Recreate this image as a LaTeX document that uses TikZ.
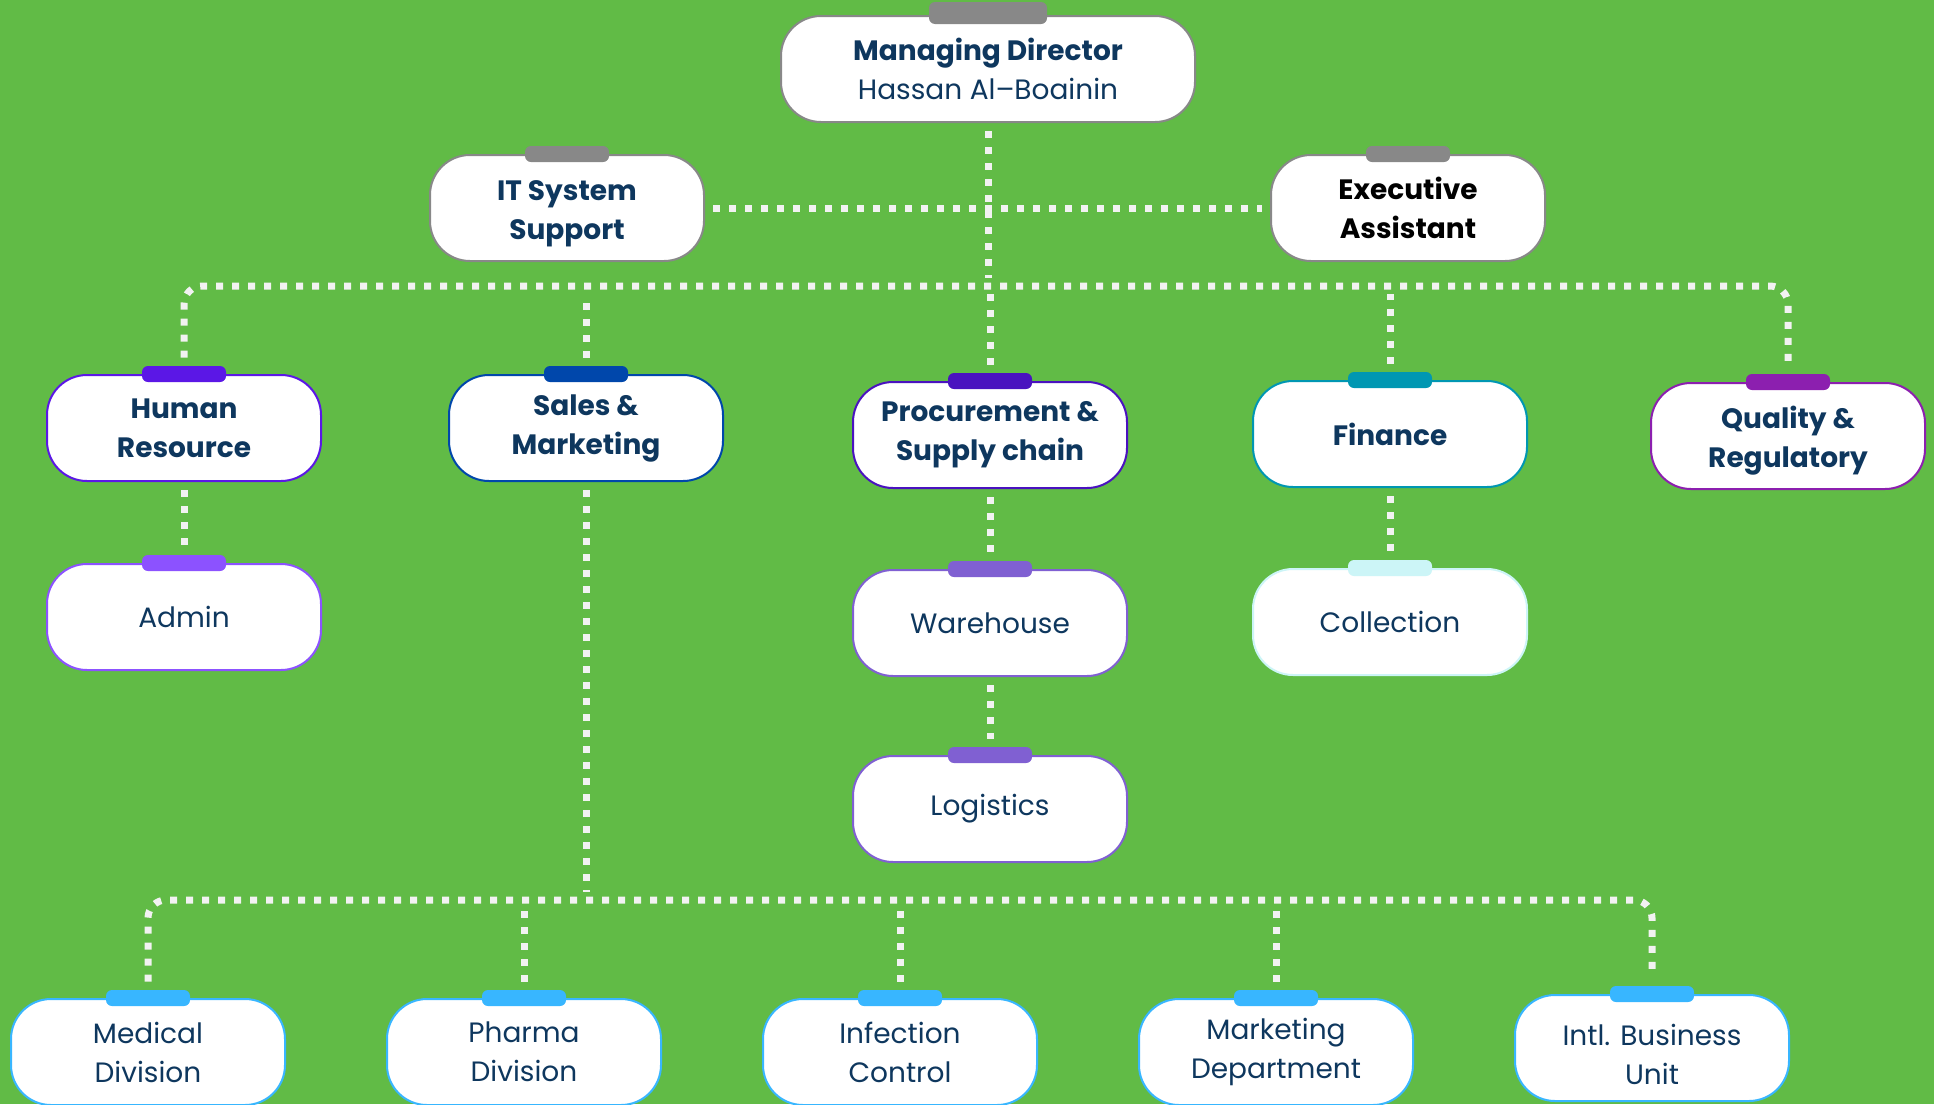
\documentclass[tikz,border=0pt]{standalone}
\usepackage{fontspec}
\setmainfont{Poppins}
\usetikzlibrary{calc}
\usetikzlibrary{positioning}

\definecolor{bggreen}{RGB}{97,187,70}
\definecolor{navy}{RGB}{14,55,94}
\definecolor{dotwhite}{RGB}{242,242,242}
\definecolor{mdgray}{RGB}{136,136,136}
\definecolor{hrpurple}{RGB}{91,23,230}
\definecolor{smblue}{RGB}{0,71,171}
\definecolor{prpurple}{RGB}{74,18,191}
\definecolor{fiteal}{RGB}{0,151,178}
\definecolor{qrmagenta}{RGB}{140,31,175}
\definecolor{adviolet}{RGB}{140,82,255}
\definecolor{whviolet}{RGB}{128,96,210}
\definecolor{cocyan}{RGB}{204,245,247}
\definecolor{skyblue}{RGB}{56,182,255}

\tikzset{
    box/.style={draw=#1, line width=1pt, fill=white, rounded corners=20pt,
        minimum width=137pt, minimum height=53pt, align=center, text=navy,
        font=\fontsize{14}{19.5}\selectfont},
    tab/.style={fill=#1, rounded corners=3pt, minimum width=42pt,
        minimum height=8pt, inner sep=0pt},
    link/.style={draw=dotwhite, line width=3.5pt, dash pattern=on 3.5pt off 4.5pt,
        shorten <=4pt, shorten >=4pt}
}

\begin{document}
\begin{tikzpicture}[x=0.5pt, y=-0.5pt]
    \useasboundingbox (0,0) rectangle (1934,1104);
    \fill[bggreen] (0,0) rectangle (1934,1104);

    % top
    \node[box=mdgray, minimum width=207pt] (md) at (988,69) {\textbf{Managing Director}\\Hassan Al–Boainin};
    \node[tab=mdgray, minimum width=59pt, minimum height=11pt] (md-tab) at ($(md.north)+(0,-2)$) {};
    \node[box=mdgray] (it) at (567,208) {\rule{0pt}{16pt}\textbf{IT System}\\\textbf{Support}};
    \node[box=mdgray, text=black] (ea) at (1408,208) {\textbf{Executive}\\\textbf{Assistant}};
    \foreach \n in {it,ea}
        \node[tab=mdgray] (\n-tab) at (\n.north) {};

    % departments
    \node[box=hrpurple] (hr) at (184,428) {\textbf{Human}\\\textbf{Resource}};
    \node[box=smblue] (sm) at (586,428) {\textbf{Sales \&}\\\textbf{Marketing}};
    \node[box=prpurple] (pr) at (990,435) {\textbf{Procurement \&}\\\textbf{Supply chain}};
    \node[box=fiteal] (fi) at (1390,434) {\textbf{Finance}};
    \node[box=qrmagenta] (qr) at (1788,436) {\rule{0pt}{16pt}\textbf{Quality \&}\\\textbf{Regulatory}};
    \node[tab=hrpurple] (hr-tab) at (hr.north) {};
    \node[tab=smblue] (sm-tab) at (sm.north) {};
    \node[tab=prpurple] (pr-tab) at (pr.north) {};
    \node[tab=fiteal] (fi-tab) at (fi.north) {};
    \node[tab=qrmagenta] (qr-tab) at (qr.north) {};

    % sections
    \node[box=adviolet] (ad) at (184,617) {Admin};
    \node[box=whviolet] (wh) at (990,623) {Warehouse};
    \node[box=whviolet] (lg) at (990,809) {Logistics};
    \node[box=cocyan] (co) at (1390,622) {Collection};
    \node[tab=adviolet] (ad-tab) at (ad.north) {};
    \node[tab=whviolet] (wh-tab) at (wh.north) {};
    \node[tab=whviolet] (lg-tab) at (lg.north) {};
    \node[tab=cocyan] (co-tab) at (co.north) {};

    % sales units
    \node[box=skyblue] (mdv) at (148,1052) {Medical\\Division};
    \node[box=skyblue] (ph) at (524,1052) {Pharma\\Division};
    \node[box=skyblue] (ic) at (900,1052) {Infection\\Control};
    \node[box=skyblue] (mk) at (1276,1052) {Marketing\\Department};
    \node[box=skyblue] (ib) at (1652,1048) {\rule{0pt}{17pt}Intl. Business\\Unit};
    \foreach \n in {mdv,ph,ic,mk,ib}
        \node[tab=skyblue] (\n-tab) at (\n.north) {};

    % connectors
    \coordinate (bus) at (0,286);
    \coordinate (bus2) at (0,900);
    \draw[link] (md.south) -- (md.south |- bus);
    \draw[link] (it.east) -- (ea.west);
    \draw[link, rounded corners=9pt] (hr-tab.north) |- (md.south |- bus) -| (qr-tab.north);
    \foreach \t in {sm-tab,pr-tab,fi-tab}
        \draw[link] (\t.north) -- (\t.north |- bus);
    \draw[link] (hr.south) -- (ad-tab.north);
    \draw[link] (pr.south) -- (wh-tab.north);
    \draw[link] (wh.south) -- (lg-tab.north);
    \draw[link] (fi.south) -- (co-tab.north);
    \draw[link] (sm.south) -- (sm.south |- bus2);
    \draw[link, rounded corners=9pt] (mdv-tab.north) |- (sm.south |- bus2) -| (ib-tab.north);
    \foreach \t in {ph-tab,ic-tab,mk-tab}
        \draw[link] (\t.north) -- (\t.north |- bus2);
\end{tikzpicture}
\end{document}
